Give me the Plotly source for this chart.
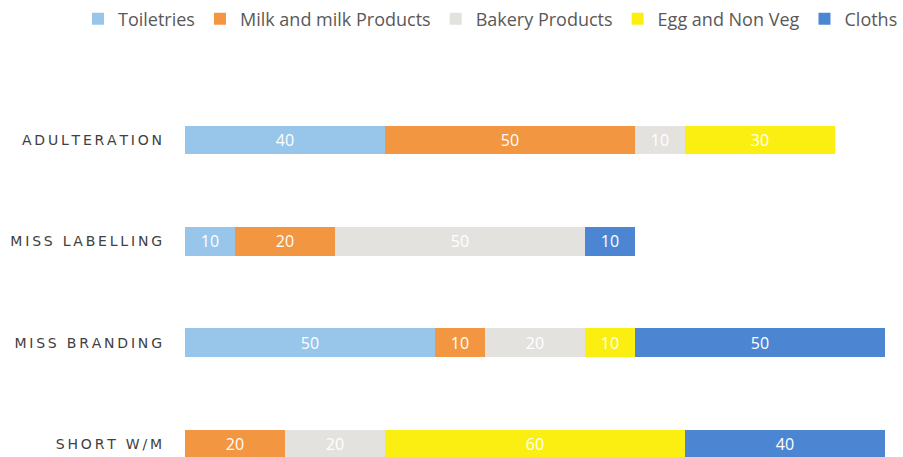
import plotly.graph_objects as go

categories = ["ADULTERATION", "MISS LABELLING", "MISS BRANDING", "SHORT W/M"]
series_names = ["Toiletries", "Milk and milk Products", "Bakery Products", "Egg and Non Veg", "Cloths"]
toiletries = [40, 10, 50, 0]
milk = [50, 20, 10, 20]
bakery = [10, 50, 20, 20]
egg = [30, 0, 10, 60]
cloths = [0, 10, 50, 40]
series_values = [toiletries, milk, bakery, egg, cloths]
colors = ["#97c6ea", "#f29642", "#e4e2df", "#fbef12", "#4c86d3"]

# letter-spaced tick text (the reference uses wide tracking)
def spaced(s):
    return "\u2009".join(list(s))

fig = go.Figure()
for name, vals, col in zip(series_names, series_values, colors):
    fig.add_trace(go.Bar(
        name=name,
        y=categories,
        x=vals,
        orientation="h",
        width=0.28,
        marker=dict(color=col, line=dict(width=0)),
        text=[str(v) if v else "" for v in vals],
        textposition="inside",
        insidetextanchor="middle",
        textfont=dict(color="white", size=16, family="Open Sans"),
        hoverinfo="skip",
    ))

fig.update_layout(
    barmode="stack",
    width=903,
    height=457,
    margin=dict(l=185, r=0, t=40, b=0),
    paper_bgcolor="white",
    plot_bgcolor="white",
    showlegend=True,
    legend=dict(
        orientation="h",
        x=-0.121,
        xanchor="left",
        y=1.058,
        yanchor="middle",
        font=dict(size=18, color="#595959", family="Open Sans"),
        traceorder="normal",
        itemclick=False,
    ),
    xaxis=dict(
        range=[0, 143.6],
        showgrid=False,
        zeroline=False,
        showticklabels=False,
        showline=False,
        ticks="",
    ),
    yaxis=dict(
        type="category",
        range=[3.13, -0.96],
        showgrid=False,
        zeroline=False,
        showline=False,
        ticks="",
        ticklabelstandoff=22,
        tickmode="array",
        tickvals=categories,
        ticktext=[spaced(c) for c in categories],
        tickfont=dict(size=14, color="#404040", family="DejaVu Sans"),
    ),
    uniformtext=dict(mode="show", minsize=10),
)

fig.write_html("out.html")
